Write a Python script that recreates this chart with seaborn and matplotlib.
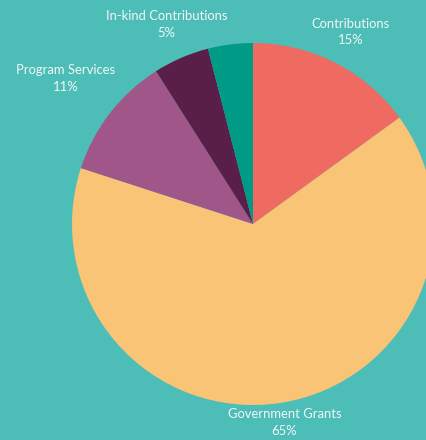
import numpy as np
import matplotlib
matplotlib.use("Agg")
import matplotlib.pyplot as plt
import seaborn as sns

# revenue sources, clockwise from 12 o'clock
sources = ["Contributions", "Government Grants", "Program Services",
           "In-kind Contributions", "Other"]
shares = [15, 65, 11, 5, 4]
show_label = [True, True, True, True, False]

colors = sns.color_palette(["#EF6A60", "#F9C475", "#A1568A", "#5A1F48", "#009B87"])
label_dist = [1.19, 1.11, 1.31, 1.2, 1.2]
bg = "#4DBDB8"

sns.set_theme(style="white")
plt.rcParams["font.family"] = ["Lato", "DejaVu Sans"]

fig = plt.figure(figsize=(4.27, 4.40), dpi=100, facecolor=bg)
ax = fig.add_axes([72 / 427, 35 / 440, 362 / 427, 362 / 440])
ax.set_facecolor(bg)

wedges, _ = ax.pie(shares, colors=colors, startangle=90, counterclock=False,
                   radius=1, wedgeprops=dict(linewidth=0))
for w in wedges:
    w.set_clip_on(False)

for w, name, val, show, d in zip(wedges, sources, shares, show_label, label_dist):
    if not show:
        continue
    mid = np.deg2rad((w.theta1 + w.theta2) / 2)
    ax.text(d * np.cos(mid), d * np.sin(mid), f"{name}\n{val}%",
            ha="center", va="center", color="#F2F7F7", fontsize=9.4,
            linespacing=1.45, clip_on=False)

ax.set_xlim(-1, 1)
ax.set_ylim(-1, 1)
ax.set_aspect("equal")
ax.axis("off")

fig.savefig("out.png", dpi=100, facecolor=bg)
